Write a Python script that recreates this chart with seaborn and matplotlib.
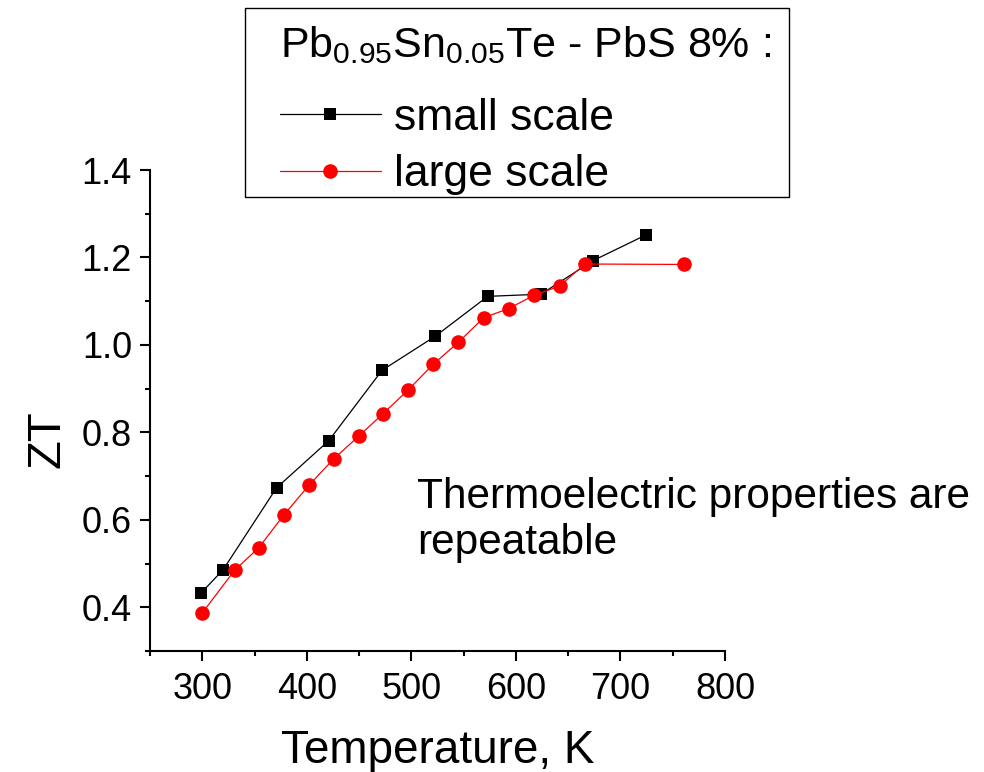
import matplotlib
matplotlib.use("Agg")
import matplotlib.pyplot as plt
import matplotlib.patches as mpatches
import seaborn as sns
import pandas as pd
from matplotlib.ticker import MultipleLocator

# data
small_T = [299, 320, 371, 421, 472, 523, 573, 624, 674, 724]
small_ZT = [0.433, 0.486, 0.673, 0.781, 0.942, 1.020, 1.111, 1.116, 1.193, 1.251]
large_T = [300, 331, 354, 378, 402, 426, 450, 473, 497, 521, 545, 569, 593, 617, 642, 666, 761]
large_ZT = [0.387, 0.485, 0.536, 0.611, 0.679, 0.740, 0.792, 0.843, 0.897, 0.956,
            1.006, 1.062, 1.083, 1.113, 1.135, 1.185, 1.184]
x_ticks = [300, 400, 500, 600, 700, 800]
y_ticks = [0.4, 0.6, 0.8, 1.0, 1.2, 1.4]

sns.set_style("ticks")
plt.rcParams["font.family"] = ["Liberation Sans", "DejaVu Sans"]
plt.rcParams["mathtext.fontset"] = "custom"
plt.rcParams["mathtext.rm"] = "Liberation Sans"
plt.rcParams["mathtext.it"] = "Liberation Sans:italic"
plt.rcParams["mathtext.bf"] = "Liberation Sans:bold"
for k in ["text.color", "axes.labelcolor", "xtick.color", "ytick.color", "axes.edgecolor"]:
    plt.rcParams[k] = "black"

fig = plt.figure(figsize=(9.84, 7.72), dpi=100)
W, H = 984, 772
ax = fig.add_axes([150 / W, 1 - 651 / H, (725 - 150) / W, (651 - 170) / H])

df_s = pd.DataFrame({"T": small_T, "ZT": small_ZT})
df_l = pd.DataFrame({"T": large_T, "ZT": large_ZT})

sns.lineplot(data=df_s, x="T", y="ZT", ax=ax, color="black", lw=0.9,
             marker="s", markersize=8.5, markeredgewidth=0, label="small scale")
sns.lineplot(data=df_l, x="T", y="ZT", ax=ax, color="#ff0000", lw=0.9,
             marker="o", markersize=10.5, markeredgewidth=0, label="large scale")

ax.set_xlim(250, 800)
ax.set_ylim(0.3, 1.4)
ax.set_xticks(x_ticks)
ax.set_yticks(y_ticks)
ax.set_xticklabels([str(v) for v in x_ticks])
ax.set_yticklabels([f"{v:.1f}" for v in y_ticks])
ax.xaxis.set_minor_locator(MultipleLocator(50))
ax.yaxis.set_minor_locator(MultipleLocator(0.1))

for s in ["top", "right"]:
    ax.spines[s].set_visible(False)
for s in ["left", "bottom"]:
    ax.spines[s].set_linewidth(1.5)
    ax.spines[s].set_color("black")

ax.tick_params(axis="both", which="major", direction="out", length=7, width=1.5,
               labelsize=26)
ax.tick_params(axis="both", which="minor", direction="out", length=3.6, width=1.5)
ax.tick_params(axis="x", which="major", pad=8)
ax.tick_params(axis="y", which="major", pad=6)

ax.set_xlabel("Temperature, K", fontsize=33, labelpad=16)
ax.set_ylabel("ZT", fontsize=34)
ax.yaxis.set_label_coords(-0.14, 0.44)

leg = ax.legend(loc="upper left", bbox_to_anchor=(280 / W, 1 - 24 / H),
                bbox_transform=fig.transFigure, borderaxespad=0,
                fontsize=32, title=r"$\mathregular{Pb_{0.95}Sn_{0.05}Te}$ - PbS 8% :",
                title_fontsize=31, alignment="left", frameon=False,
                handlelength=2.27, handletextpad=0.29, labelspacing=0.35,
                borderpad=0)
# extra gap between the legend title and its entries
leg._legend_box.sep = 23

# legend frame box (outline only)
fig.patches.append(mpatches.Rectangle((245 / W, 1 - 197 / H), (789 - 245) / W, (197 - 8) / H,
                                      transform=fig.transFigure, fill=False,
                                      edgecolor="black", linewidth=1.0, zorder=5))

fig.text(417 / W, 1 - 554 / H, "Thermoelectric properties are\nrepeatable",
         fontsize=30.5, ha="left", va="baseline", linespacing=1.2)

fig.savefig("out.png", dpi=100, facecolor="white")
